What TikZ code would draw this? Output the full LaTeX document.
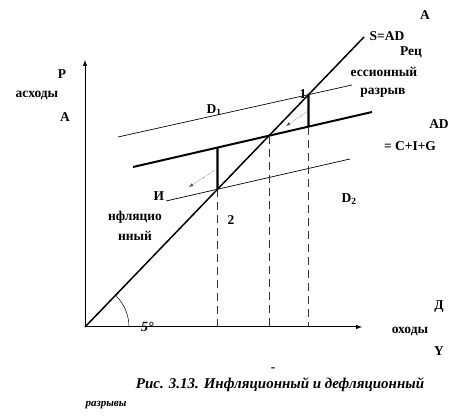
\documentclass[tikz,border=0pt]{standalone}
\usepackage{fontspec}
\setmainfont{Liberation Serif}

\begin{document}
\begin{tikzpicture}[x=1pt, y=-1pt,
  lbl/.style = {font=\fontsize{13.5}{15}\selectfont\bfseries, inner sep=0pt},
  capt/.style = {font=\fontsize{15}{17}\selectfont\bfseries\itshape, inner sep=0pt},
  axis/.style = {line width=1pt, -latex},
  diag/.style = {line width=1.5pt},
  spend/.style = {line width=0.7pt},
  aggr/.style = {line width=2pt},
  gapbar/.style = {line width=2.4pt},
  guide/.style = {line width=0.8pt, dash pattern=on 8pt off 5pt, black!80},
  hint/.style = {line width=0.5pt, densely dotted, black!70, -latex}]
            \useasboundingbox (0,0) rectangle (467,420);

            \coordinate (O) at (85,327);
            \coordinate (ytip) at (85,60);
            \coordinate (xtip) at (362,327);
            \coordinate (S) at (364,37);

            \coordinate (d1a) at (118,137);
            \coordinate (d1b) at (352,85);
            \coordinate (ada) at (133,167);
            \coordinate (adb) at (372,112);
            \coordinate (d2a) at (166,201);
            \coordinate (d2b) at (350,159);

            \coordinate (p1) at (intersection of O--S and d1a--d1b);
            \coordinate (e) at (intersection of O--S and ada--adb);
            \coordinate (p2) at (intersection of O--S and d2a--d2b);
            \coordinate (t1) at (p1 |- 0,0);
            \coordinate (t2) at (p2 |- 0,0);
            \coordinate (a1) at (intersection of p1--t1 and ada--adb);
            \coordinate (a2) at (intersection of p2--t2 and ada--adb);

            \coordinate (h1s) at (308,111);
            \coordinate (h1e) at (286,126);
            \coordinate (h2s) at (215,170);
            \coordinate (h2e) at (189,187);

            % axes and the 45 degree line
            \draw[axis] (O) -- (ytip);
            \draw[axis] (O) -- (xtip);
            \draw[diag] (O) -- (S);
            \draw[line width=0.5pt] (O) ++(44,0) arc[start angle=0, end angle=-47, radius=44];

            % spending lines
            \draw[spend] (d1a) -- (d1b);
            \draw[aggr] (ada) -- (adb);
            \draw[spend] (d2a) -- (d2b);

            \draw[guide] (p2) -- (p2 |- O);
            \draw[guide] (e) -- (e |- O);
            \draw[guide] (a1) -- (a1 |- O);

            \draw[gapbar] (p2) -- (a2);
            \draw[gapbar] (p1) -- (a1);

            \draw[hint] (h1s) -- (h1e);
            \draw[hint] (h2s) -- (h2e);

            % labels
            \node[lbl] (r1) at (62,74) {Р};
            \node[lbl] (r2) at (37,95) {асходы};
            \node[lbl] (r3) at (65,117) {А};

            \node[lbl] (sad) at (387,36) {S=AD};
            \node[lbl] (ta) at (425,15) {А};
            \node[lbl] (rec1) at (411,52) {Рец};
            \node[lbl] (rec2) at (384,72) {ессионный};
            \node[lbl] (rec3) at (383,93) {разрыв};

            \node[lbl] (n1) at (303,94) {1};
            \node[lbl] (n2) at (231,220) {2};
            \node[lbl] (dd1) at (214,110) {D\textsubscript{1}};
            \node[lbl] (dd2) at (349,199) {D\textsubscript{2}};

            \node[lbl] (ad1) at (439,124) {AD};
            \node[lbl] (ad2) at (410,146) {= C+I+G};

            \node[lbl] (inf1) at (159,196) {И};
            \node[lbl] (inf2) at (135,217) {нфляцио};
            \node[lbl] (inf3) at (135,236) {нный};

            \node[lbl, font=\fontsize{14}{16}\selectfont\bfseries\itshape, anchor=base west] (ang) at (141,331) {5°};

            \node[lbl] (x1) at (439,307) {Д};
            \node[lbl] (x2) at (410,331) {оходы};
            \node[lbl] (x3) at (439,351) {Y};

            \node[lbl] (dash) at (273,370) {-};
            \node[capt] (cap1) at (280,385) {Рис. 3.13. Инфляционный и дефляционный};
            \node[capt, font=\fontsize{11}{13}\selectfont\bfseries\itshape] (cap2) at (106,405) {разрывы};
\end{tikzpicture}
\end{document}
